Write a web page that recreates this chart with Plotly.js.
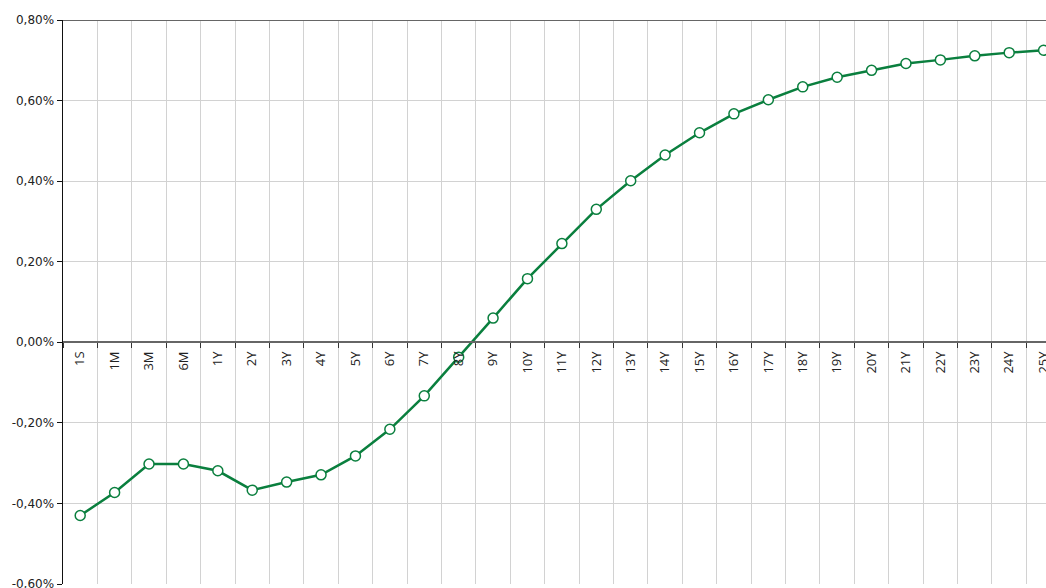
<!DOCTYPE html>
<html>
<head>
<meta charset="utf-8">
<script src="https://cdn.plot.ly/plotly-3.0.1.min.js"></script>
<style>
html,body{margin:0;padding:0;overflow:hidden;background:#fff;}
#chart{width:1046px;height:588px;}
</style>
</head>
<body>
<div id="chart"></div>
<script>
// Tenor categories
const tenors = ["1S","1M","3M","6M","1Y","2Y","3Y","4Y","5Y","6Y","7Y","8Y","9Y","10Y",
  "11Y","12Y","13Y","14Y","15Y","16Y","17Y","18Y","19Y","20Y","21Y","22Y","23Y","24Y","25Y"];
// Rates in percent
const rates = [-0.43,-0.373,-0.302,-0.302,-0.319,-0.367,-0.347,-0.329,-0.282,-0.216,-0.133,-0.037,
  0.060,0.158,0.245,0.330,0.401,0.465,0.520,0.567,0.602,0.634,0.658,0.675,0.692,0.701,0.711,0.719,0.725];
// Y axis ticks and their labels
const yTicks = [-0.6,-0.4,-0.2,0,0.2,0.4,0.6,0.8];
const yTickLabels = ["-0,60%","-0,40%","-0,20%","0,00%","0,20%","0,40%","0,60%","0,80%"];

const green = "#0a7f3e";
const trace = {
  type: "scatter",
  mode: "lines+markers",
  x: tenors,
  y: rates,
  line: {color: green, width: 2.5},
  marker: {size: 10, color: "#ffffff", line: {color: green, width: 1.5}},
  cliponaxis: true,
  hoverinfo: "x+y"
};

const layout = {
  width: 1046,
  height: 588,
  margin: {l: 63, r: 0, t: 20, b: 4, pad: 0},
  paper_bgcolor: "#ffffff",
  plot_bgcolor: "#ffffff",
  showlegend: false,
  xaxis: {
    type: "category",
    range: [-0.5, 28.07],
    anchor: "free",
    position: 0.6/1.4,
    showline: true,
    linecolor: "#666666",
    linewidth: 2,
    ticks: "outside",
    ticklen: 5,
    tickwidth: 1,
    tickcolor: "#333333",
    tickson: "boundaries",
    tickangle: -90,
    ticklabelstandoff: 3,
    ticklabeloverflow: "allow",
    showgrid: true,
    gridcolor: "#d2d2d2",
    gridwidth: 1,
    zeroline: false,
    tickfont: {family: "Open Sans, sans-serif", size: 13, color: "#222222"},
    fixedrange: true
  },
  yaxis: {
    range: [-0.6, 0.8],
    tickmode: "array",
    tickvals: yTicks,
    ticktext: yTickLabels,
    ticklabeloverflow: "allow",
    showline: true,
    linecolor: "#111111",
    linewidth: 1.5,
    ticks: "outside",
    ticklen: 5,
    tickcolor: "#111111",
    showgrid: true,
    gridcolor: "#d2d2d2",
    gridwidth: 1,
    zeroline: false,
    tickfont: {family: "DejaVu Sans, sans-serif", size: 12, color: "#222222"},
    fixedrange: true
  },
  shapes: [{
    type: "line", xref: "paper", yref: "y",
    x0: 0, x1: 1, y0: 0.8, y1: 0.8,
    line: {color: "#666666", width: 2},
    layer: "above"
  }]
};

Plotly.newPlot("chart", [trace], layout, {displayModeBar: false, staticPlot: true});
</script>
</body>
</html>
